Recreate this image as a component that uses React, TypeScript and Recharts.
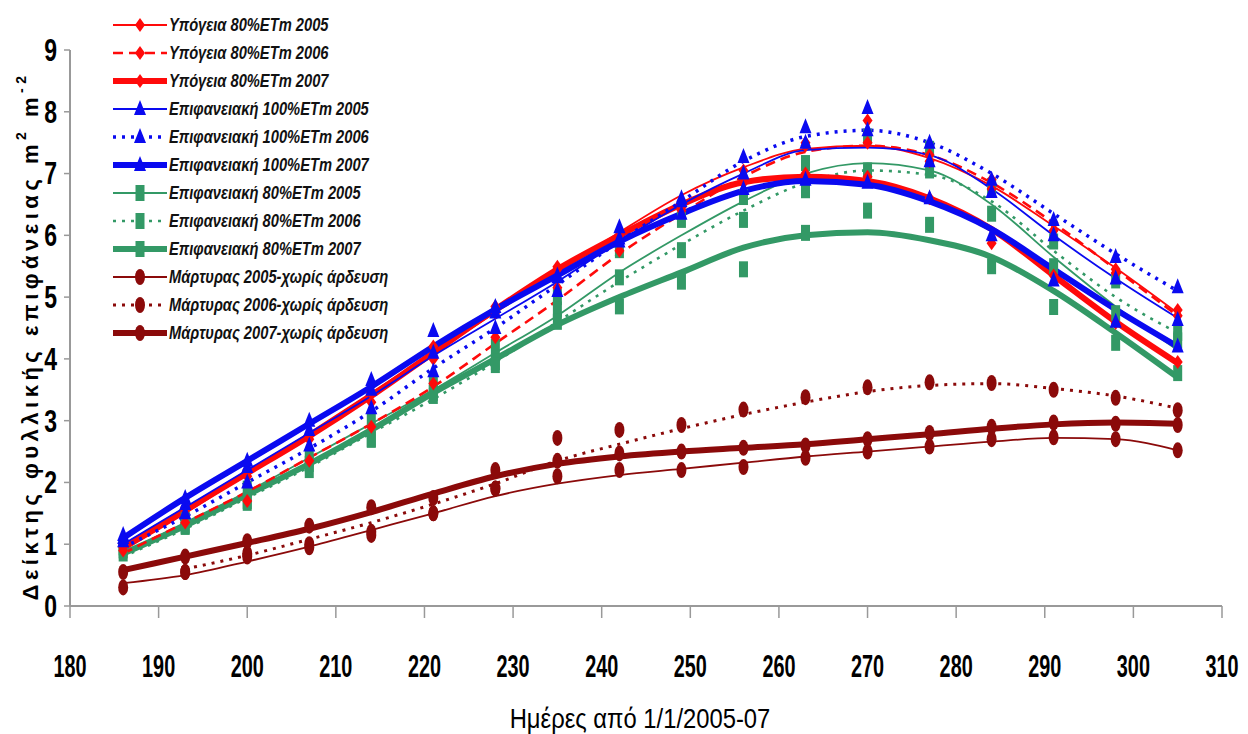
import { ComposedChart, Label, Legend, Line, XAxis, YAxis } from "recharts";

const days = [186, 193, 200, 207, 214, 221, 228, 235, 242, 249, 256, 263, 270, 277, 284, 291, 298, 305];
const xTicks = [180, 190, 200, 210, 220, 230, 240, 250, 260, 270, 280, 290, 300, 310];
const yTicks = [0, 1, 2, 3, 4, 5, 6, 7, 8, 9];

// measured points
const red05 = [1.0, 1.55, 2.2, 2.75, 3.45, 4.2, 4.85, 5.45, 6.0, 6.55, 7.05, 7.5, 7.86, 7.3, 6.75, 6.08, 5.39, 4.79];
const red06 = [0.9, 1.35, 1.7, 2.35, 2.9, 3.6, 4.35, 5.15, 5.75, 6.4, 6.93, 7.45, 7.5, 7.2, 6.9, 6.2, 5.45, 4.7];
const red07 = [0.95, 1.6, 2.1, 2.7, 3.3, 4.0, 4.75, 5.49, 6.0, 6.45, 6.85, 7.0, 6.95, 6.6, 5.87, 5.35, 4.58, 3.95];
const blue05 = [1.05, 1.65, 2.25, 2.85, 3.5, 4.1, 4.75, 5.32, 5.95, 6.55, 7.0, 7.5, 7.7, 7.2, 6.7, 6.0, 5.3, 4.63];
const blue06 = [1.15, 1.5, 2.0, 2.6, 3.2, 3.8, 4.5, 5.1, 6.13, 6.6, 7.27, 7.75, 8.06, 7.5, 6.9, 6.25, 5.65, 5.16];
const blue07 = [1.1, 1.75, 2.35, 3.0, 3.66, 4.45, 4.84, 5.35, 5.9, 6.35, 6.75, 6.9, 6.85, 6.6, 6.0, 5.27, 4.6, 4.2];
const green05 = [0.95, 1.4, 1.9, 2.4, 3.0, 3.6, 4.2, 5.0, 5.76, 6.25, 6.62, 7.17, 7.6, 7.4, 6.8, 5.9, 5.27, 4.42];
const green06 = [0.9, 1.28, 1.67, 2.3, 2.69, 3.45, 3.95, 4.8, 5.32, 5.76, 6.25, 6.73, 7.05, 7.05, 6.35, 5.5, 4.74, 4.3];
const green07 = [0.85, 1.3, 1.7, 2.2, 2.7, 3.4, 3.9, 4.6, 4.85, 5.25, 5.45, 6.04, 6.4, 6.17, 5.5, 4.84, 4.26, 3.77];
const ctrl05 = [0.3, 0.55, 0.8, 1.0, 1.2, 1.5, 1.9, 2.1, 2.2, 2.2, 2.25, 2.4, 2.5, 2.58, 2.7, 2.73, 2.7, 2.52];
const ctrl06 = [null, 0.55, 0.85, 0.95, 1.15, 1.5, 1.9, 2.72, 2.85, 2.93, 3.18, 3.38, 3.54, 3.62, 3.61, 3.5, 3.37, 3.17];
const ctrl07 = [0.55, 0.8, 1.05, 1.3, 1.6, 1.75, 2.2, 2.35, 2.47, 2.5, 2.56, 2.6, 2.7, 2.8, 2.9, 2.97, 2.95, 2.93];

// trend lines at the same days
const redFit05 = [0.9, 1.5, 2.15, 2.8, 3.45, 4.1, 4.75, 5.4, 6.05, 6.65, 7.1, 7.4, 7.45, 7.25, 6.8, 6.15, 5.47, 4.74];
const redFit06 = [0.85, 1.35, 1.85, 2.4, 2.95, 3.55, 4.25, 4.95, 5.7, 6.35, 6.95, 7.35, 7.45, 7.3, 6.85, 6.2, 5.45, 4.7];
const redFit07 = [0.95, 1.55, 2.15, 2.75, 3.4, 4.1, 4.8, 5.45, 6.0, 6.5, 6.86, 6.95, 6.88, 6.6, 6.1, 5.35, 4.6, 3.93];
const blueFit05 = [1.0, 1.6, 2.2, 2.8, 3.4, 4.05, 4.65, 5.25, 5.9, 6.5, 7.0, 7.38, 7.42, 7.3, 6.75, 6.0, 5.3, 4.66];
const blueFit06 = [0.95, 1.45, 2.0, 2.55, 3.15, 3.85, 4.5, 5.2, 5.9, 6.55, 7.2, 7.6, 7.7, 7.5, 7.0, 6.35, 5.7, 5.1];
const blueFit07 = [1.1, 1.75, 2.35, 2.95, 3.55, 4.2, 4.8, 5.35, 5.9, 6.35, 6.72, 6.88, 6.82, 6.55, 6.1, 5.45, 4.8, 4.2];
const greenFit05 = [0.85, 1.35, 1.85, 2.4, 2.95, 3.5, 4.1, 4.7, 5.4, 6.0, 6.55, 7.0, 7.17, 7.05, 6.5, 5.65, 4.85, 4.14];
const greenFit06 = [0.8, 1.25, 1.75, 2.25, 2.8, 3.35, 3.95, 4.6, 5.25, 5.85, 6.4, 6.85, 7.05, 6.98, 6.55, 5.75, 5.0, 4.42];
const greenFit07 = [0.85, 1.3, 1.8, 2.3, 2.85, 3.45, 4.0, 4.55, 5.0, 5.4, 5.8, 6.0, 6.05, 5.92, 5.65, 5.1, 4.42, 3.7];
const ctrlFit05 = [0.37, 0.5, 0.72, 0.96, 1.23, 1.5, 1.78, 1.98, 2.12, 2.22, 2.32, 2.42, 2.5, 2.58, 2.66, 2.72, 2.7, 2.52];
const ctrlFit06 = [null, 0.6, 0.82, 1.08, 1.35, 1.65, 1.98, 2.35, 2.62, 2.87, 3.1, 3.3, 3.47, 3.57, 3.6, 3.52, 3.4, 3.2];
const ctrlFit07 = [0.58, 0.8, 1.02, 1.25, 1.52, 1.82, 2.1, 2.3, 2.42, 2.5, 2.56, 2.62, 2.7, 2.78, 2.87, 2.94, 2.97, 2.95];

const RED = "#ff0a0a";
const BLUE = "#0a0af0";
const GREEN = "#339966";
const DARKRED = "#8b0a0a";

// no narrow font installed, so text gets squeezed with scaleX
const SANS = "'Liberation Sans', Arial, sans-serif";

type Shape = "diamond" | "triangle" | "rect" | "ellipse";

const SERIES = [
  { key: "red05", fit: "redFit05", pts: red05, line: redFit05, name: "Υπόγεια 80%ETm 2005", color: RED, shape: "diamond", width: 1.8, dash: undefined },
  { key: "red06", fit: "redFit06", pts: red06, line: redFit06, name: "Υπόγεια 80%ETm 2006", color: RED, shape: "diamond", width: 2.6, dash: "10 6" },
  { key: "red07", fit: "redFit07", pts: red07, line: redFit07, name: "Υπόγεια 80%ETm 2007", color: RED, shape: "diamond", width: 6, dash: undefined },
  { key: "blue05", fit: "blueFit05", pts: blue05, line: blueFit05, name: "Επιφανειακή 100%ETm 2005", color: BLUE, shape: "triangle", width: 1.8, dash: undefined },
  { key: "blue06", fit: "blueFit06", pts: blue06, line: blueFit06, name: "Επιφανειακή 100%ETm 2006", color: BLUE, shape: "triangle", width: 3.5, dash: "3 6" },
  { key: "blue07", fit: "blueFit07", pts: blue07, line: blueFit07, name: "Επιφανειακή 100%ETm 2007", color: BLUE, shape: "triangle", width: 6, dash: undefined },
  { key: "green05", fit: "greenFit05", pts: green05, line: greenFit05, name: "Επιφανειακή 80%ETm 2005", color: GREEN, shape: "rect", width: 1.8, dash: undefined },
  { key: "green06", fit: "greenFit06", pts: green06, line: greenFit06, name: "Επιφανειακή 80%ETm 2006", color: GREEN, shape: "rect", width: 2.6, dash: "3 6" },
  { key: "green07", fit: "greenFit07", pts: green07, line: greenFit07, name: "Επιφανειακή 80%ETm 2007", color: GREEN, shape: "rect", width: 6, dash: undefined },
  { key: "ctrl05", fit: "ctrlFit05", pts: ctrl05, line: ctrlFit05, name: "Μάρτυρας 2005-χωρίς άρδευση", color: DARKRED, shape: "ellipse", width: 1.8, dash: undefined },
  { key: "ctrl06", fit: "ctrlFit06", pts: ctrl06, line: ctrlFit06, name: "Μάρτυρας 2006-χωρίς άρδευση", color: DARKRED, shape: "ellipse", width: 3, dash: "3 6" },
  { key: "ctrl07", fit: "ctrlFit07", pts: ctrl07, line: ctrlFit07, name: "Μάρτυρας 2007-χωρίς άρδευση", color: DARKRED, shape: "ellipse", width: 6, dash: undefined },
];

const data = days.map((day, i) => {
  const row: Record<string, number | null> = { day };
  SERIES.forEach((s) => {
    row[s.key] = s.pts[i];
    row[s.fit] = s.line[i];
  });
  return row;
});

// lines drawn in this order so the blue sits on top like the original
const DRAW_ORDER = ["ctrl05", "ctrl06", "ctrl07", "green05", "green06", "green07", "red05", "red06", "red07", "blue05", "blue06", "blue07"];

function Marker({ shape, cx, cy, color }: { shape: Shape; cx: number; cy: number; color: string }) {
  if (shape === "diamond") {
    return <polygon points={`${cx},${cy - 7} ${cx + 5},${cy} ${cx},${cy + 7} ${cx - 5},${cy}`} fill={color} />;
  }
  if (shape === "triangle") {
    return <polygon points={`${cx},${cy - 9} ${cx + 6},${cy + 6} ${cx - 6},${cy + 6}`} fill={color} />;
  }
  if (shape === "rect") {
    return <rect x={cx - 4.5} y={cy - 8} width={9} height={16} fill={color} />;
  }
  return <ellipse cx={cx} cy={cy} rx={5} ry={8} fill={color} />;
}

const makeDot = (shape: Shape, color: string) => (props: any) => {
  const { cx, cy, index } = props;
  if (cx == null || cy == null || props.value == null) return <g key={index} />;
  return (
    <g key={index}>
      <Marker shape={shape} cx={cx} cy={cy} color={color} />
    </g>
  );
};

const LegendBox = () => (
  <svg width={340} height={345}>
    {SERIES.map((s, i) => {
      const y = 14 + i * 28;
      return (
        <g key={s.key}>
          <line x1={6} x2={60} y1={y} y2={y} stroke={s.color} strokeWidth={s.width} strokeDasharray={s.dash} />
          <Marker shape={s.shape as Shape} cx={33} cy={y} color={s.color} />
          <text
            transform={`translate(62,${y}) scale(0.84,1)`}
            dy="0.36em"
            fontFamily={SANS}
            fontSize={17.5}
            fontWeight="bold"
            fontStyle="italic"
            fill="#111"
          >
            {s.name}
          </text>
        </g>
      );
    })}
  </svg>
);

const XTick = ({ x, y, payload }: any) => (
  <text
    transform={`translate(${x},${y + 46}) scale(0.62,1)`}
    textAnchor="middle"
    dominantBaseline="central"
    fontFamily={SANS}
    fontWeight="bold"
    fontSize={32}
    fill="#000"
  >
    {payload.value}
  </text>
);

const YTick = ({ x, y, payload }: any) => (
  <text
    transform={`translate(${x - 5},${y}) scale(0.72,1)`}
    textAnchor="end"
    dominantBaseline="central"
    fontFamily={SANS}
    fontWeight="bold"
    fontSize={32}
    fill="#000"
  >
    {payload.value}
  </text>
);

const YLabel = ({ viewBox }: any) => {
  const cx = viewBox.x + 22;
  const cy = viewBox.y + viewBox.height / 2 + 8;
  return (
    <text
      transform={`translate(${cx},${cy}) rotate(-90)`}
      textAnchor="middle"
      dominantBaseline="central"
      fontFamily={SANS}
      fontWeight="bold"
      fontSize={22}
      letterSpacing={4.5}
      fill="#000"
    >
      Δείκτης φυλλικής επιφάνειας m<tspan dy={-9} fontSize={14}>2</tspan>
      <tspan dy={9}> m</tspan>
      <tspan dy={-9} fontSize={14}>-2</tspan>
    </text>
  );
};

const XLabel = ({ viewBox }: any) => (
  <text
    transform={`translate(${viewBox.x + viewBox.width / 2 - 6},${viewBox.y + 112}) scale(0.85,1)`}
    textAnchor="middle"
    dominantBaseline="central"
    fontFamily={SANS}
    fontSize={28}
    fill="#000"
  >
    Ημέρες από 1/1/2005-07
  </text>
);

export default function App() {
  const byKey = Object.fromEntries(SERIES.map((s) => [s.key, s]));
  const ordered = DRAW_ORDER.map((k) => byKey[k]);
  return (
    <ComposedChart width={1232} height={726} data={data} margin={{ top: 42, right: 18, bottom: 8, left: 0 }}>
      <XAxis
        dataKey="day"
        type="number"
        domain={[180, 310]}
        ticks={xTicks}
        tick={<XTick />}
        tickSize={12}
        height={120}
        stroke="#999"
        strokeWidth={2}
        tickLine={{ stroke: "#999", strokeWidth: 1.5 }}
      >
        <Label content={<XLabel />} />
      </XAxis>
      <YAxis
        type="number"
        domain={[0, 9]}
        ticks={yTicks}
        tick={<YTick />}
        tickSize={6}
        width={62}
        stroke="#999"
        strokeWidth={2}
        tickLine={{ stroke: "#999", strokeWidth: 1.5 }}
      >
        <Label content={<YLabel />} />
      </YAxis>
      <Legend
        layout="vertical"
        align="center"
        verticalAlign="middle"
        content={() => <LegendBox />}
        wrapperStyle={{ left: 99, top: 3, width: 340 }}
      />
      {ordered.map((s) => (
        <Line
          key={s.fit}
          dataKey={s.fit}
          type="monotone"
          stroke={s.color}
          strokeWidth={s.width}
          strokeDasharray={s.dash}
          dot={false}
          activeDot={false}
          connectNulls
          isAnimationActive={false}
          legendType="none"
        />
      ))}
      {ordered.map((s) => (
        <Line
          key={s.key}
          dataKey={s.key}
          stroke="none"
          dot={makeDot(s.shape as Shape, s.color)}
          activeDot={false}
          isAnimationActive={false}
          legendType="none"
        />
      ))}
    </ComposedChart>
  );
}
